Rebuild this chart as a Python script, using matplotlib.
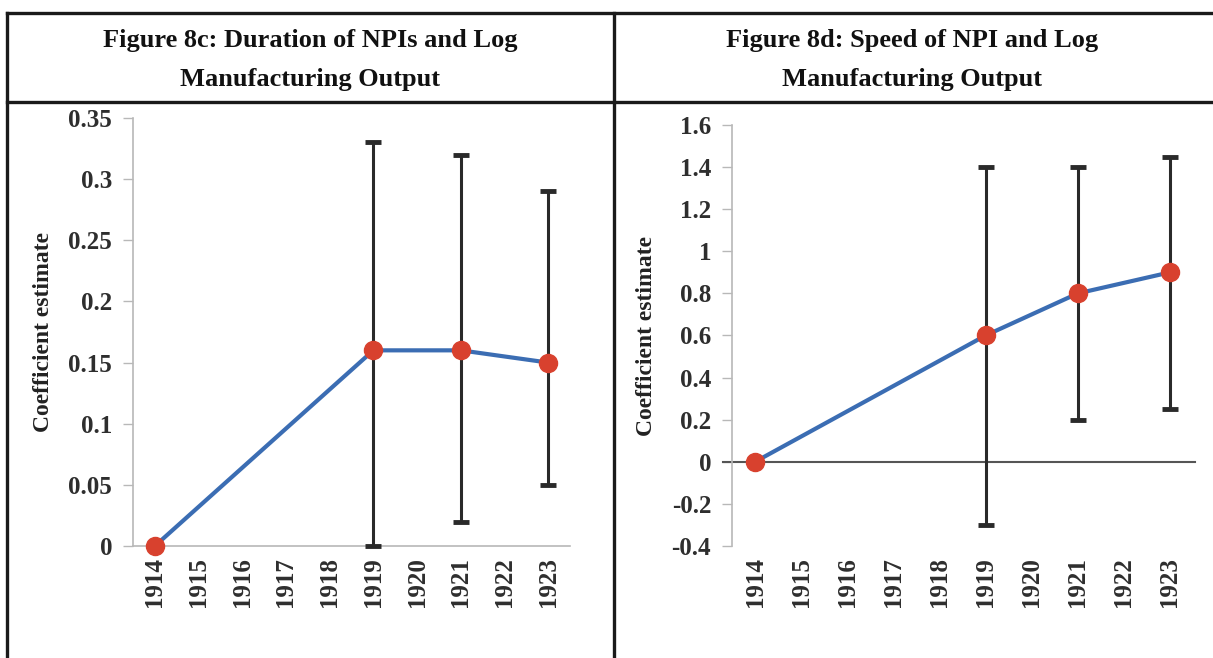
import matplotlib.pyplot as plt
import numpy as np
from matplotlib.lines import Line2D

plt.rcParams['font.family'] = ['Liberation Serif', 'DejaVu Serif']
plt.rcParams['font.weight'] = 'bold'

# data
years = [1914, 1915, 1916, 1917, 1918, 1919, 1920, 1921, 1922, 1923]
est_years = [1914, 1919, 1921, 1923]

dur_coef = [0.0, 0.16, 0.16, 0.15]
dur_low = [0.0, 0.0, 0.02, 0.05]
dur_high = [0.0, 0.33, 0.32, 0.29]
dur_ticks = [0, 0.05, 0.1, 0.15, 0.2, 0.25, 0.3, 0.35]
dur_ticklabels = ['0', '0.05', '0.1', '0.15', '0.2', '0.25', '0.3', '0.35']

spd_coef = [0.0, 0.6, 0.8, 0.9]
spd_low = [0.0, -0.3, 0.2, 0.25]
spd_high = [0.0, 1.4, 1.4, 1.45]
spd_ticks = [-0.4, -0.2, 0, 0.2, 0.4, 0.6, 0.8, 1.0, 1.2, 1.4, 1.6]
spd_ticklabels = ['-0.4', '-0.2', '0', '0.2', '0.4', '0.6', '0.8', '1', '1.2', '1.4', '1.6']

titles = ['Figure 8c: Duration of NPIs and Log\nManufacturing Output',
          'Figure 8d: Speed of NPI and Log\nManufacturing Output']

W, H = 1213, 658
fig = plt.figure(figsize=(W / 100, H / 100), dpi=100)


def fx(px):
    return px / W


def fy(py):
    return 1 - py / H


line_col = '#3b6db3'
dot_col = '#d8412e'
bar_col = '#2a2a2a'
spine_col = '#b8b8b8'
text_col = '#2e2e2e'


def draw_panel(ax, coef, low, high, ticks, ticklabels, ylim):
    coef = np.array(coef)
    yerr = [coef - np.array(low), np.array(high) - coef]
    # error bars only where there is an interval
    ax.errorbar(est_years[1:], coef[1:], yerr=[yerr[0][1:], yerr[1][1:]], fmt='none',
                ecolor=bar_col, elinewidth=2.2, capsize=6, capthick=3.5, zorder=3, clip_on=False)
    ax.plot(est_years, coef, color=line_col, lw=3, zorder=4, clip_on=False)
    ax.plot(est_years, coef, 'o', color=dot_col, ms=13, zorder=5, clip_on=False)
    ax.set_xlim(1913.5, 1923.5)
    ax.set_ylim(*ylim)
    ax.set_yticks(ticks)
    ax.set_yticklabels(ticklabels)
    ax.set_xticks(years)
    ax.set_xticklabels([str(y) for y in years], rotation=90)
    ax.tick_params(axis='y', length=7, width=1, color=spine_col, pad=8,
                   labelsize=18, labelcolor=text_col)
    ax.tick_params(axis='x', length=0, pad=8, labelsize=18, labelcolor=text_col)
    for s in ['top', 'right']:
        ax.spines[s].set_visible(False)
    ax.spines['left'].set_color(spine_col)
    ax.spines['left'].set_linewidth(1.2)
    ax.set_ylabel('Coefficient estimate', fontsize=17, fontweight='heavy', color='#222222')


ax1 = fig.add_axes([fx(133), fy(546), fx(570 - 133), fy(118) - fy(546)])
draw_panel(ax1, dur_coef, dur_low, dur_high, dur_ticks, dur_ticklabels, (0, 0.35))
ax1.spines['bottom'].set_color(spine_col)
ax1.spines['bottom'].set_linewidth(1.2)
ax1.yaxis.set_label_coords(-0.18, 0.5)

ax2 = fig.add_axes([fx(732), fy(546), fx(1193 - 732), fy(125) - fy(546)])
draw_panel(ax2, spd_coef, spd_low, spd_high, spd_ticks, spd_ticklabels, (-0.4, 1.6))
ax2.spines['bottom'].set_visible(False)
ax2.axhline(0, xmin=-0.02, xmax=1.005, color='#555555', lw=1.5, zorder=2, clip_on=False)
ax2.yaxis.set_label_coords(-0.163, 0.5)

# table frame
lw = 2.4
for x0, x1, y0, y1 in [(7, W, 12.5, 12.5), (7, W, 102, 102), (7, 7, 12.5, H), (614, 614, 12.5, H)]:
    fig.add_artist(Line2D([fx(x0), fx(x1)], [fy(y0), fy(y1)], color='#1a1a1a', lw=lw))

fig.text(fx(310), fy(60), titles[0], ha='center', va='center', fontsize=19,
         fontweight='bold', color='#111111', linespacing=1.85)
fig.text(fx(912), fy(60), titles[1], ha='center', va='center', fontsize=19,
         fontweight='bold', color='#111111', linespacing=1.85)

fig.savefig('out.png', dpi=100)
